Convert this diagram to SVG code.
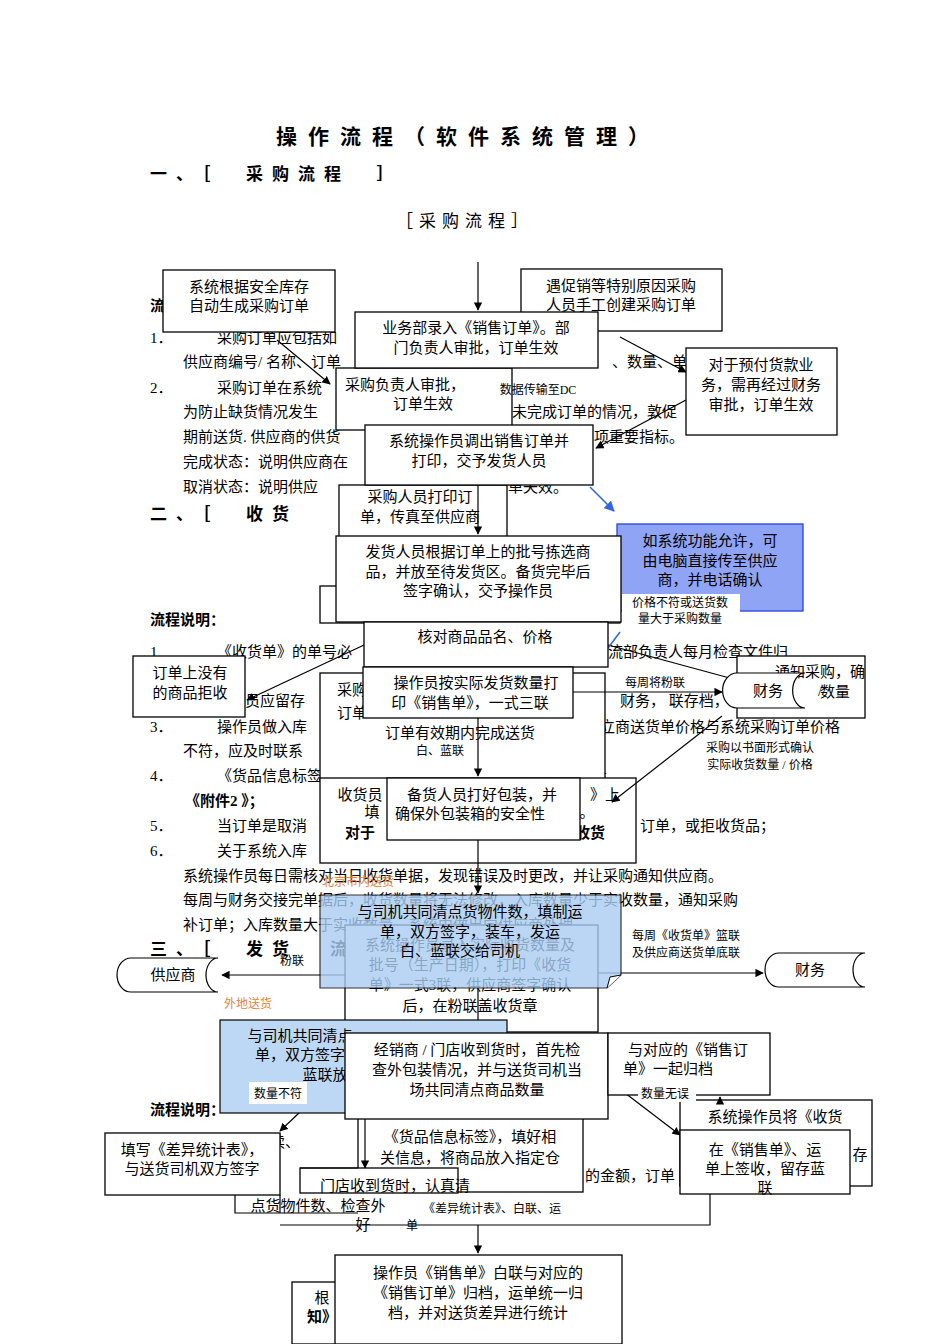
<svg xmlns="http://www.w3.org/2000/svg" width="950" height="1344" viewBox="0 0 950 1344">
<defs>
<marker id="ar" viewBox="0 0 10 10" refX="9" refY="5" markerWidth="7" markerHeight="7" orient="auto"><path d="M0,0L10,5L0,10z" fill="#000"/></marker>
<marker id="ab" viewBox="0 0 10 10" refX="9" refY="5" markerWidth="7" markerHeight="7" orient="auto"><path d="M0,0L10,5L0,10z" fill="#3366dd"/></marker>
<style>
text{font-family:"Liberation Serif","Noto Sans CJK SC",serif;fill:#000}
.bg{font-size:15px}
.b{font-weight:bold}
.bx rect{fill:#fff;stroke:#000;stroke-width:1.3}
.bx text{font-size:15px;text-anchor:middle}
.lb{font-size:12px;text-anchor:middle}
.or{fill:#e8823a}
.ln{stroke:#000;stroke-width:1.2;fill:none}
</style>
</defs>
<g id="doc">
<text x="468" y="144" font-size="21" class="b" text-anchor="middle" letter-spacing="11">操作流程（软件系统管理）</text>
<text x="150" y="180" font-size="17" class="b" letter-spacing="9" xml:space="preserve">一、［  采购流程  ］</text>
<text x="465" y="227" font-size="17" text-anchor="middle" letter-spacing="6">［采购流程］</text>
<text x="150" y="311" class="bg b">流</text>
<text x="150" y="343" class="bg">1．</text><text x="217" y="343" class="bg">采购订单应包括如</text>
<text x="183" y="367" class="bg">供应商编号/  名称、订单</text><text x="612" y="367" class="bg">、数量、单</text>
<text x="150" y="393" class="bg">2．</text><text x="217" y="393" class="bg">采购订单在系统</text>
<text x="183" y="417" class="bg">为防止缺货情况发生</text><text x="512" y="417" class="bg">未完成订单的情况，敦促</text>
<text x="183" y="442" class="bg">期前送货. 供应商的供货</text><text x="594" y="442" class="bg">项重要指标。</text>
<text x="183" y="467" class="bg">完成状态：说明供应商在</text>
<text x="183" y="492" class="bg">取消状态：说明供应</text><text x="508" y="492" class="bg">单失效。</text>
<text x="150" y="520" font-size="17" class="b" letter-spacing="9" xml:space="preserve">二、［  收货</text>
<text x="150" y="625" class="bg b">流程说明：</text>
<text x="150" y="657" class="bg">1</text><text x="217" y="657" class="bg">《收货单》的单号必</text><text x="608" y="657" class="bg">流部负责人每月检查文件归</text>
<text x="245" y="706" class="bg">员应留存</text><text x="620" y="706" class="bg">财务，   联存档，</text>
<text x="150" y="732" class="bg">3．</text><text x="217" y="732" class="bg">操作员做入库</text><text x="600" y="732" class="bg">立商送货单价格与系统采购订单价格</text>
<text x="183" y="756" class="bg">不符，应及时联系</text>
<text x="150" y="781" class="bg">4．</text><text x="217" y="781" class="bg">《货品信息标签》包括，商品编号、名称、规格、起始数量、</text>
<text x="185" y="806" class="bg b">《附件2 》；</text>
<text x="150" y="831" class="bg">5．</text><text x="217" y="831" class="bg">当订单是取消</text><text x="640" y="831" class="bg">订单，或拒收货品；</text>
<text x="150" y="856" class="bg">6．</text><text x="217" y="856" class="bg">关于系统入库</text>
<text x="183" y="881" class="bg">系统操作员每日需核对当日收货单据，发现错误及时更改，并让采购通知供应商。</text>
<text x="183" y="905" class="bg">每周与财务交接完单据后，收货数量将无法修改，入库数量少于实收数量，通知采购</text>
<text x="183" y="930" class="bg">补订单；入库数量大于实收数量，系统中做出向供应商处理</text>
<text x="150" y="955" font-size="17" class="b" letter-spacing="9" xml:space="preserve">三、［  发货</text>
<text x="330" y="955" font-size="17" class="b">流</text>
<text x="150" y="1115" class="bg b">流程说明：</text>
<text x="240" y="1147" class="bg">须连续、</text>
<text x="585" y="1181" class="bg">的金额，订单</text>
</g>

<g id="n-under">
<g class="bx"><rect x="336" y="368" width="176" height="62"/><text x="405" y="390">采购负责人审批，</text><text x="423" y="409">订单生效</text></g>
<g class="bx"><rect x="339" y="485" width="168" height="52"/><text x="420" y="502">采购人员打印订</text><text x="420" y="522">单，传真至供应商</text></g>
<g class="bx"><rect x="320" y="586" width="300" height="37"/></g>
<g class="bx"><rect x="320" y="673" width="285" height="108"/><text x="352" y="695">采购</text><text x="352" y="718">订单</text><text x="460" y="738">订单有效期内完成送货</text></g>
<g class="bx"><rect x="737" y="656" width="128" height="62"/><text x="820" y="677">通知采购，确</text><text x="835" y="697">数量</text></g>
<g class="bx"><rect x="320" y="778" width="316" height="85"/><text x="360" y="800">收货员</text><text x="605" y="800">》上</text><text x="372" y="817">填</text><text x="587" y="817">。</text><text x="360" y="838" font-weight="bold">对于</text><text x="590" y="838" font-weight="bold">收货</text></g>
<g class="bx"><rect x="345" y="925" width="253" height="107"/><text x="470" y="950" fill="#666">系统操作员录入实际收货数量及</text><text x="470" y="970" fill="#666">批号（生产日期），打印《收货</text><text x="470" y="990" fill="#666">单》一式3联，供应商签字确认</text><text x="470" y="1011">后，在粉联盖收货章</text></g>
<g class="bx"><rect x="358" y="1117" width="225" height="75"/><text x="470" y="1142">《货品信息标签》，填好相</text><text x="470" y="1163">关信息，将商品放入指定仓</text></g>
<g class="bx"><rect x="680" y="1100" width="192" height="86"/><text x="775" y="1122">系统操作员将《收货</text><text x="860" y="1160">存</text></g>
<g class="bx"><rect x="292" y="1282" width="60" height="62"/><text x="322" y="1303">根</text><text x="322" y="1322" fill="#2233cc" font-weight="bold">知》</text></g>
</g>

<g id="connectors">
<path class="ln" d="M478,262V310" marker-end="url(#ar)"/>
<path class="ln" d="M277,340L330,384" marker-end="url(#ar)"/>
<path class="ln" d="M620,337L686,372" marker-end="url(#ar)"/>
<path class="ln" d="M686,400L596,448" marker-end="url(#ar)"/>
<path d="M590,487L614,511" stroke="#3366dd" stroke-width="1.5" marker-end="url(#ab)"/>
<path class="ln" d="M478,485V534" marker-end="url(#ar)"/>
<path class="ln" d="M478,622V665" marker-end="url(#ar)"/>
<path class="ln" d="M364,645L247,700" marker-end="url(#ar)"/>
<path class="ln" d="M608,645L737,680"/>
<path d="M620,632L608,648" stroke="#3366dd" stroke-width="1.5"/>
<path class="ln" d="M573,692H722" marker-end="url(#ar)"/>
<path class="ln" d="M722,716L612,802" marker-end="url(#ar)"/>
<path class="ln" d="M478,718V776" marker-end="url(#ar)"/>
<path class="ln" d="M478,840V893" marker-end="url(#ar)"/>
<path class="ln" d="M345,975H222" marker-end="url(#ar)"/>
<path class="ln" d="M598,973H763" marker-end="url(#ar)"/>
<path class="ln" d="M478,988V1031" marker-end="url(#ar)"/>
<path class="ln" d="M355,1060L280,1131" marker-end="url(#ar)"/>
<path class="ln" d="M608,1080L680,1135" marker-end="url(#ar)"/>
<path class="ln" d="M365,1119V1168" marker-end="url(#ar)"/>
<path class="ln" d="M720,1100V1097" marker-end="url(#ar)"/>
<path class="ln" d="M235,1192V1213H358M280,1225H710V1194"/>
<path class="ln" d="M478,1225V1253" marker-end="url(#ar)"/>
</g>

<g id="nodes">
<g class="bx"><rect x="163" y="270" width="172" height="62"/><text x="249" y="292">系统根据安全库存</text><text x="249" y="311">自动生成采购订单</text></g>
<g class="bx"><rect x="521" y="269" width="201" height="62"/><text x="621" y="291">遇促销等特别原因采购</text><text x="621" y="310">人员手工创建采购订单</text></g>
<g class="bx"><rect x="355" y="312" width="243" height="56"/><text x="476" y="333">业务部录入《销售订单》。部</text><text x="476" y="353">门负责人审批，订单生效</text></g>
<text x="538" y="394" class="lb">数据传输至DC</text>
<g class="bx"><rect x="686" y="348" width="151" height="87"/><text x="761" y="370">对于预付货款业</text><text x="761" y="390">务，需再经过财务</text><text x="761" y="410">审批，订单生效</text></g>
<g class="bx"><rect x="365" y="425" width="228" height="60"/><text x="479" y="446">系统操作员调出销售订单并</text><text x="479" y="466">打印，交予发货人员</text></g>
<g id="blue1"><rect x="617" y="524" width="186" height="87" fill="#8fa4f4" stroke="#2244dd" stroke-width="1.3"/><g class="bx"><text x="710" y="546">如系统功能允许，可</text><text x="710" y="566">由电脑直接传至供应</text><text x="710" y="585">商，并电话确认</text></g></g>
<g class="bx"><rect x="336" y="536" width="285" height="86"/><text x="478" y="557">发货人员根据订单上的批号拣选商</text><text x="478" y="577">品，并放至待发货区。备货完毕后</text><text x="478" y="596">签字确认，交予操作员</text></g>
<rect x="622" y="594" width="118" height="32" fill="#fff"/>
<text x="680" y="607" class="lb">价格不符或送货数</text><text x="680" y="623" class="lb">量大于采购数量</text>
<g class="bx"><rect x="364" y="622" width="244" height="45"/><text x="485" y="642">核对商品品名、价格</text></g>
<g class="bx"><rect x="133" y="656" width="112" height="61"/><text x="190" y="678">订单上没有</text><text x="190" y="698">的商品拒收</text></g>
<g id="cyl1"><path d="M737,673H805A12,17 0 0 0 805,708H737A14,17 0 0 1 737,673Z" fill="#fff" stroke="#000" stroke-width="1.2"/><text x="768" y="696" font-size="15" text-anchor="middle">财务</text><text x="818" y="696" font-size="15">/</text></g>
<g class="bx"><rect x="363" y="667" width="210" height="51"/><text x="476" y="688">操作员按实际发货数量打</text><text x="470" y="708">印《销售单》，一式三联</text></g>
<text x="655" y="687" class="lb">每周将粉联</text>
<text x="440" y="755" class="lb">白、蓝联</text>
<text x="760" y="752" class="lb">采购以书面形式确认</text><text x="760" y="769" class="lb">实际收货数量 / 价格</text>
<g class="bx"><rect x="387" y="778" width="193" height="62"/><text x="482" y="800">备货人员打好包装，并</text><text x="470" y="819">确保外包装箱的安全性</text></g>
<text x="358" y="886" class="lb or">北京市内送货</text>
<g id="blue2" opacity="0.8"><path d="M320,895H621V975L607,988H320Z" fill="#a9cdf2" stroke="#000" stroke-width="1.2"/></g>
<path d="M607,988L610,977L621,975" fill="#fff" stroke="#000" stroke-width="1"/>
<g class="bx"><text x="470" y="917">与司机共同清点货物件数，填制运</text><text x="470" y="937">单，双方签字，装车，发运</text><text x="460" y="956">白、蓝联交给司机</text></g>
<text x="686" y="940" class="lb">每周《收货单》篮联</text><text x="686" y="957" class="lb">及供应商送货单底联</text>
<text x="292" y="965" class="lb">粉联</text>
<g id="cyl2"><path d="M131,958H218A12,17 0 0 0 218,992H131A14,17 0 0 1 131,958Z" fill="#fff" stroke="#000" stroke-width="1.2"/><text x="173" y="980" font-size="15" text-anchor="middle">供应商</text></g>
<g id="cyl3"><path d="M779,953H865A12,17 0 0 0 865,987H779A14,17 0 0 1 779,953Z" fill="#fff" stroke="#000" stroke-width="1.2"/><text x="810" y="975" font-size="15" text-anchor="middle">财务</text></g>
<text x="248" y="1008" class="lb or">外地送货</text>
<g id="blue3"><rect x="220" y="1020" width="287" height="93" fill="#bdd8f5" stroke="#000" stroke-width="1.2"/><g class="bx"><text x="300" y="1041">与司机共同清点</text><text x="300" y="1060">单，双方签字</text><text x="325" y="1080">蓝联放</text></g></g>
<rect x="249" y="1082" width="58" height="22" fill="#fff"/><text x="278" y="1098" class="lb">数量不符</text>
<g class="bx"><rect x="345" y="1033" width="263" height="86"/><text x="477" y="1055">经销商 / 门店收到货时，首先检</text><text x="477" y="1075">查外包装情况，并与送货司机当</text><text x="477" y="1095">场共同清点商品数量</text></g>
<g class="bx"><rect x="608" y="1033" width="162" height="62"/><text x="688" y="1055">与对应的《销售订</text><text x="668" y="1074">单》一起归档</text></g>
<rect x="638" y="1086" width="58" height="16" fill="#fff"/><text x="665" y="1098" class="lb">数量无误</text>
<g class="bx"><rect x="680" y="1130" width="170" height="64"/><text x="765" y="1155">在《销售单》、运</text><text x="765" y="1174">单上签收，留存蓝</text><text x="765" y="1193">联</text></g>
<g class="bx"><rect x="105" y="1133" width="175" height="62"/><text x="192" y="1155">填写《差异统计表》，</text><text x="192" y="1174">与送货司机双方签字</text></g>
<g class="bx"><rect x="300" y="1168" width="158" height="25" stroke="none"/><text x="395" y="1191">门店收到货时，认真清</text><text x="318" y="1211">点货物件数、检查外</text><text x="363" y="1230">好</text></g>
<path class="ln" d="M300,1168H358M280,1195V1213"/>
<text x="492" y="1213" class="lb">《差异统计表》、白联、运</text><text x="412" y="1230" class="lb">单</text>
<g class="bx"><rect x="335" y="1255" width="287" height="89"/><text x="478" y="1278">操作员《销售单》白联与对应的</text><text x="478" y="1298">《销售订单》归档，运单统一归</text><text x="478" y="1318">档，并对送货差异进行统计</text></g>
</g>
</svg>
